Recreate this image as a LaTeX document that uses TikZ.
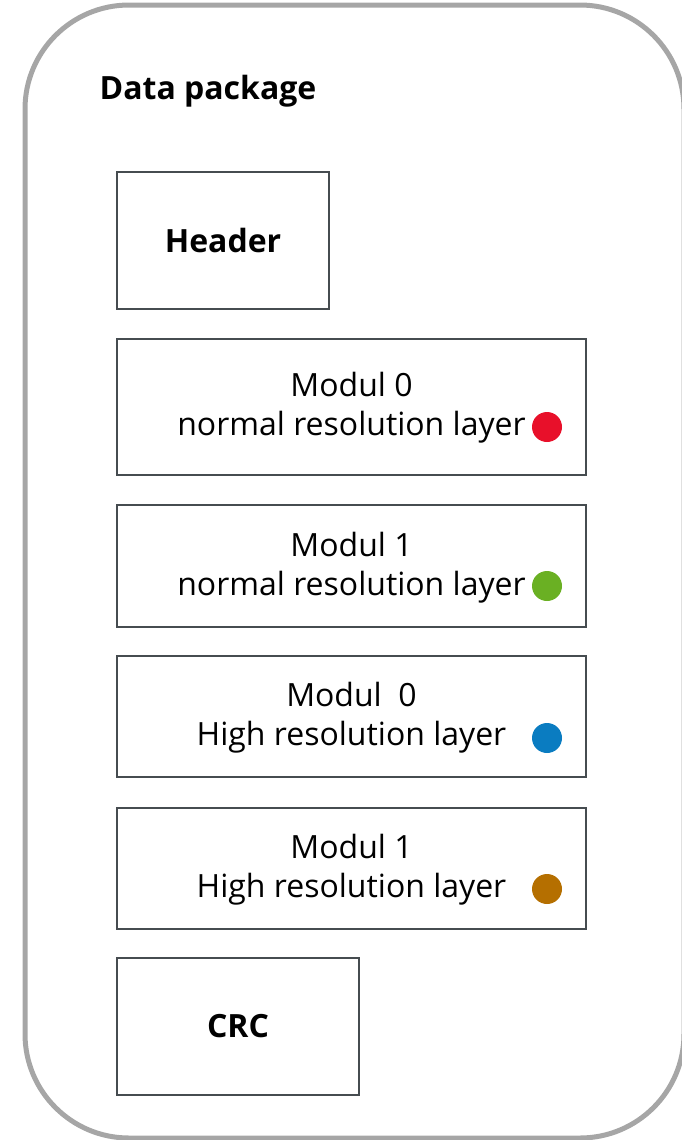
\documentclass[tikz,border=0pt]{standalone}
\usepackage{fontspec}
\setmainfont{Open Sans}
\usetikzlibrary{positioning}

\definecolor{framegray}{RGB}{166,166,166}
\definecolor{boxgray}{RGB}{70,76,80}
\definecolor{dotred}{RGB}{232,16,42}
\definecolor{dotgreen}{RGB}{106,176,35}
\definecolor{dotblue}{RGB}{10,124,193}
\definecolor{dotbrown}{RGB}{181,111,0}

\tikzset{
  pkgframe/.style={draw=framegray, line width=3.75pt, rounded corners=78pt},
  field/.style={draw=boxgray, line width=1.5pt, inner sep=0pt, align=center,
    font=\fontsize{24}{29.3}\selectfont},
  boldfield/.style={field, font=\fontsize{24}{29.3}\selectfont\bfseries},
  wide/.style={minimum width=352pt, minimum height=#1},
  layerdot/.style={circle, fill=#1, inner sep=0pt, minimum size=22.5pt}
}

\begin{document}
\begin{tikzpicture}[x=0.75pt, y=-0.75pt]
  \useasboundingbox (0,0) rectangle (682,1140);

  % package frame
  \draw [pkgframe] (25,5) rectangle (684,1138);
  \node (title) [font=\fontsize{24}{29.3}\selectfont\bfseries] at (208,91) {Data package};

  % header
  \node (header) [boldfield, minimum width=159pt, minimum height=102.75pt] at (223,240.5) {Header};

  % module fields
  \node (m0n) [field, wide=102pt] at (351.5,407) {};
  \node (m1n) [field, wide=91.5pt] at (351.5,566) {};
  \node (m0h) [field, wide=90.75pt] at (351.5,716.5) {};
  \node (m1h) [field, wide=90.75pt] at (351.5,868.5) {};
  \node (m0nt) [field, draw=none] at (351.5,408) {Modul 0\\ normal resolution layer};
  \node (m1nt) [field, draw=none] at (351.5,568) {Modul 1\\ normal resolution layer};
  \node (m0ht) [field, draw=none] at (351.5,718) {Modul\ \ 0\\ High resolution layer};
  \node (m1ht) [field, draw=none] at (351.5,870) {Modul 1\\ High resolution layer};

  % crc
  \node (crc) [boldfield, minimum width=181.5pt, minimum height=102.75pt] at (238,1026.5) {CRC};

  % layer dots
  \node (d0n) [layerdot=dotred]   at (547,427) {};
  \node (d1n) [layerdot=dotgreen] at (547,586) {};
  \node (d0h) [layerdot=dotblue]  at (547,738) {};
  \node (d1h) [layerdot=dotbrown] at (547,889) {};
\end{tikzpicture}
\end{document}
